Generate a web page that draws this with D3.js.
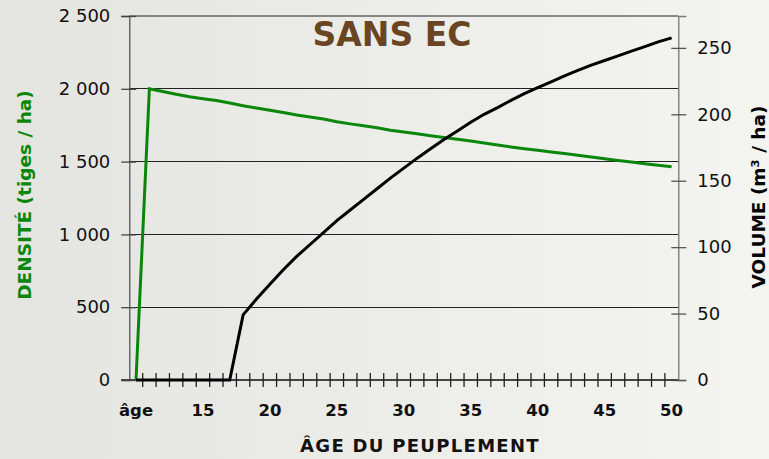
<!DOCTYPE html>
<html><head><meta charset="utf-8">
<script src="https://cdn.jsdelivr.net/npm/d3@7"></script>
<style>html,body{margin:0;padding:0;overflow:hidden}svg{display:block}</style>
</head><body>
<script>
const ages = [10,11,12,13,14,15,16,17,18,19,20,21,22,23,24,25,26,27,28,29,30,31,32,33,34,35,36,37,38,39,40,41,42,43,44,45,46,47,48,49,50];
const ageLabels = {10:"âge",15:"15",20:"20",25:"25",30:"30",35:"35",40:"40",45:"45",50:"50"};
const density = [0,2000,1981,1962,1945,1931,1919,1902,1884,1868,1852,1837,1820,1806,1793,1774,1759,1746,1733,1716,1703,1691,1678,1666,1654,1641,1628,1614,1601,1589,1578,1566,1555,1544,1532,1519,1508,1498,1486,1475,1465];
const volume = [0,0,0,0,0,0,0,0,49,61,72,83,93,102,111,120,128,136,144,152,159.5,167,174,181,187.5,194,200,205,210.5,215.5,220,224.5,229,233,237,240.5,244,247.5,251,254.5,257.5];
const densityTicks = [0,500,1000,1500,2000,2500];
const volumeTicks = [0,50,100,150,200,250];
const title = "SANS EC";
const xTitle = "ÂGE DU PEUPLEMENT";
const yLeftTitle = "DENSITÉ (tiges / ha)";
const yRightTitle = "VOLUME (m³ / ha)";

const W = 769, H = 459;
const L = 129.3, R = 678.3, T = 16, B = 380;
const svg = d3.select("body").append("svg").attr("width", W).attr("height", H);
const defs = svg.append("defs");
const grad = defs.append("linearGradient").attr("id","bg").attr("x1","0").attr("x2","1").attr("y1","0").attr("y2","0");
grad.append("stop").attr("offset","0").attr("stop-color","#e4e5e0");
grad.append("stop").attr("offset","1").attr("stop-color","#f4f4f0");
svg.append("rect").attr("width",W).attr("height",H).attr("fill","url(#bg)");

const x = d3.scaleBand().domain(ages).range([L, R]).padding(0);
const cx = a => x(a) + x.bandwidth()/2;
const yL = d3.scaleLinear().domain([0,2500]).range([B, T]);
const yR = d3.scaleLinear().domain([0,274]).range([B, T]);
const fmt = d3.formatLocale({decimal:",", thousands:" ", grouping:[3], currency:["",""]}).format(",");

// gridlines
svg.append("g").selectAll("line").data(densityTicks.filter(d=>d>0 && d<2500)).join("line")
  .attr("x1",L).attr("x2",R).attr("y1",d=>yL(d)).attr("y2",d=>yL(d))
  .attr("stroke","#222").attr("stroke-width",1).attr("shape-rendering","crispEdges");
// top border
svg.append("line").attr("x1",L).attr("x2",R).attr("y1",T).attr("y2",T).attr("stroke","#666").attr("stroke-width",1.3);

// left axis
const gl = svg.append("g").attr("transform",`translate(${L},0)`)
  .call(d3.axisLeft(yL).tickValues(densityTicks).tickFormat(fmt).tickSize(8).tickPadding(11));
gl.select(".domain").attr("stroke","#555").attr("stroke-width",1.3);
gl.selectAll(".tick line").attr("x2",7).attr("x1",-8).attr("stroke","#444").attr("stroke-width",1.3);
gl.selectAll("text").attr("font-family","DejaVu Sans").attr("font-size",18).attr("fill","#111");

// right axis
const gr = svg.append("g").attr("transform",`translate(${R},0)`)
  .call(d3.axisRight(yR).tickValues(volumeTicks).tickSize(8).tickPadding(11));
gr.select(".domain").attr("stroke","#777").attr("stroke-width",1.3);
gr.selectAll(".tick line").attr("x1",-7).attr("x2",8).attr("stroke","#555").attr("stroke-width",1.3);
gr.selectAll("text").attr("font-family","DejaVu Sans").attr("font-size",18).attr("fill","#111");

// bottom axis: labels at band centres, ticks at band boundaries
const gb = svg.append("g").attr("transform",`translate(0,${B})`)
  .call(d3.axisBottom(x).tickFormat(a => ageLabels[a] || "").tickSize(0).tickPadding(24));
gb.select(".domain").remove();
gb.selectAll("text").attr("font-family","DejaVu Sans").attr("font-weight","bold").attr("font-size",16.5).attr("fill","#111");
svg.append("line").attr("x1",L-8).attr("x2",R).attr("y1",B).attr("y2",B).attr("stroke","#444").attr("stroke-width",2);
svg.append("g").selectAll("line").data(ages.slice(1)).join("line")
  .attr("x1",a=>x(a)).attr("x2",a=>x(a)).attr("y1",B-7).attr("y2",B+7)
  .attr("stroke","#222").attr("stroke-width",1.3);

// lines
svg.append("path").datum(ages.map((a,i)=>[a,density[i]]))
  .attr("fill","none").attr("stroke","#0a870a").attr("stroke-width",3)
  .attr("d", d3.line().x(d=>cx(d[0])).y(d=>yL(d[1])));
svg.append("path").datum(ages.map((a,i)=>[a,volume[i]]))
  .attr("fill","none").attr("stroke","#000").attr("stroke-width",3)
  .attr("d", d3.line().x(d=>cx(d[0])).y(d=>yR(d[1])));

// titles
svg.append("text").attr("x",392).attr("y",46).attr("text-anchor","middle")
  .attr("font-family","DejaVu Sans").attr("font-weight","bold").attr("font-size",33)
  .attr("fill","#6b4423").text(title);
svg.append("text").attr("x",420).attr("y",452).attr("text-anchor","middle")
  .attr("font-family","DejaVu Sans").attr("font-weight","bold").attr("font-size",18)
  .attr("letter-spacing",1.3).attr("fill","#111").text(xTitle);
svg.append("text").attr("transform","translate(31,195) rotate(-90)").attr("text-anchor","middle")
  .attr("font-family","DejaVu Sans").attr("font-weight","bold").attr("font-size",18.5)
  .attr("fill","#0a870a").text(yLeftTitle);
svg.append("text").attr("transform","translate(765,197) rotate(-90)").attr("text-anchor","middle")
  .attr("font-family","DejaVu Sans").attr("font-weight","bold").attr("font-size",18.5)
  .attr("fill","#000").text(yRightTitle);
</script>
</body></html>
